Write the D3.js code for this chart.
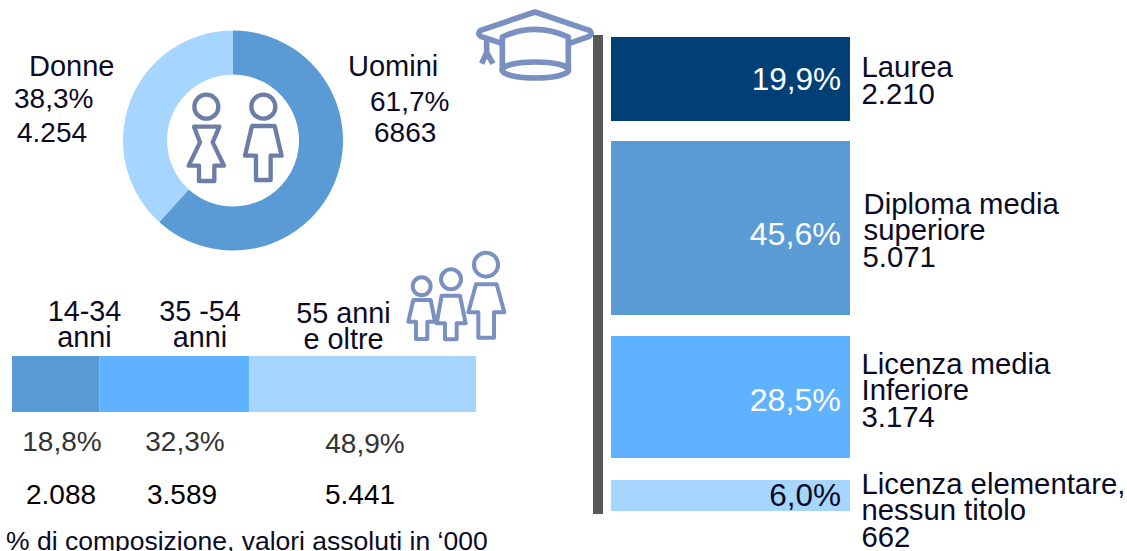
<!DOCTYPE html>
<html>
<head>
<meta charset="utf-8">
<script src="https://cdnjs.cloudflare.com/ajax/libs/d3/7.8.5/d3.min.js"></script>
<style>
  html, body { margin: 0; padding: 0; background: #fff; overflow: hidden; }
  svg { display: block; }
  text { font-family: "Liberation Sans", Arial, sans-serif; fill: #0b0b25; }
</style>
</head>
<body>
<div id="chart"></div>
<script>
// gender donut
var genderNames = ["Uomini", "Donne"];
var genderPct = [61.7, 38.3];
var genderPctLabels = ["61,7%", "38,3%"];
var genderAbsLabels = ["6863", "4.254"];

// age stacked bar
var ageNames = [["14-34", "anni"], ["35 -54", "anni"], ["55 anni", "e oltre"]];
var agePct = [18.8, 32.3, 48.9];
var agePctLabels = ["18,8%", "32,3%", "48,9%"];
var ageAbsLabels = ["2.088", "3.589", "5.441"];

// education bars
var eduNames = [["Laurea"], ["Diploma media", "superiore"], ["Licenza media", "Inferiore"], ["Licenza elementare,", "nessun titolo"]];
var eduPct = [19.9, 45.6, 28.5, 6.0];
var eduPctLabels = ["19,9%", "45,6%", "28,5%", "6,0%"];
var eduAbsLabels = ["2.210", "5.071", "3.174", "662"];

var footnote = "% di composizione, valori assoluti in ‘000";

var blue = "#5b9bd5", midBlue = "#5fb2ff", lightBlue = "#a6d5ff", navy = "#004077";
var iconDark = "#6c7ea6", iconLight = "#7a90c0";

var svg = d3.select("#chart").append("svg")
    .attr("width", 1127)
    .attr("height", 551);

function label(x, y, str, size, anchor, fill) {
    var t = svg.append("text")
        .attr("x", x)
        .attr("y", y)
        .attr("font-size", size)
        .attr("text-anchor", anchor || "start")
        .text(str);
    if (fill) t.style("fill", fill);
    return t;
}

// ---- donut ----
var pie = d3.pie().sort(null);
var arc = d3.arc().innerRadius(66).outerRadius(110);

svg.append("g")
    .attr("transform", "translate(233,140.5)")
    .selectAll("path")
    .data(pie(genderPct))
    .enter().append("path")
        .attr("d", arc)
        .attr("fill", function(d, i) { return [blue, lightBlue][i]; });

label(348, 76, genderNames[0], 29);
label(370, 111, genderPctLabels[0], 28);
label(374, 142, genderAbsLabels[0], 28);
label(29, 76, genderNames[1], 29);
label(14, 108, genderPctLabels[1], 28);
label(17, 142, genderAbsLabels[1], 28);

// ---- age bar ----
var ageX = d3.scaleLinear().domain([0, 100]).range([12, 476]);
var ageStart = d3.cumsum([0].concat(agePct));

svg.append("g").selectAll("rect")
    .data(agePct)
    .enter().append("rect")
        .attr("x", function(d, i) { return ageX(ageStart[i]); })
        .attr("y", 356)
        .attr("width", function(d) { return ageX(d) - ageX(0); })
        .attr("height", 56)
        .attr("fill", function(d, i) { return [blue, midBlue, lightBlue][i]; });

var ageNameX = [84.5, 200, 343.5], ageNameY = [321, 321, 323];
var agePctX = [62, 185, 365], agePctY = [451, 451, 453];
var ageAbsX = [61, 182, 360];
ageNames.forEach(function(lines, i) {
    label(ageNameX[i], ageNameY[i], lines[0], 28.8, "middle");
    label(ageNameX[i], ageNameY[i] + 26, lines[1], 28.8, "middle");
    label(agePctX[i], agePctY[i], agePctLabels[i], 28, "middle", "#333333");
    label(ageAbsX[i], 504, ageAbsLabels[i], 28, "middle", "#000000");
});

label(6, 550, footnote, 26.5);

// ---- education bars ----
// the source bars are not strictly proportional, so the scale goes through the drawn heights
var eduH = d3.scaleLinear().domain([6, 19.9, 28.5, 45.6]).range([31, 84, 122, 174]);
var eduGaps = [20, 21, 22, 0], eduTop = 37;
var eduY = [];
eduPct.reduce(function(y, d, i) { eduY[i] = y; return y + eduH(d) + eduGaps[i]; }, eduTop);

svg.append("rect")
    .attr("x", 593).attr("y", 35)
    .attr("width", 10).attr("height", 479)
    .attr("fill", "#595959");

svg.append("g").selectAll("rect")
    .data(eduPct)
    .enter().append("rect")
        .attr("x", 611)
        .attr("y", function(d, i) { return eduY[i]; })
        .attr("width", 239)
        .attr("height", function(d) { return eduH(d); })
        .attr("fill", function(d, i) { return [navy, blue, midBlue, lightBlue][i]; });

var eduPctY = [90, 245, 411, 506];
eduPctLabels.forEach(function(s, i) {
    label(841, eduPctY[i], s, i == 1 || i == 2 ? 32.2 : 31.5, "end", i == 3 ? "#0b0b25" : "#ffffff");
});

var eduNameX = [861.5, 863.5, 861.5, 861.5], eduNameY = [77, 214, 374, 494];
eduNames.forEach(function(lines, i) {
    lines.forEach(function(s, n) {
        label(eduNameX[i], eduNameY[i] + n * 26, s, 29.3);
    });
    label(eduNameX[i] - (i == 1 ? 1 : 0), eduNameY[i] + lines.length * 26.5, eduAbsLabels[i], 29.3);
});

// ---- icons (paths in 3x units, like the zoomed source) ----
function icon(x, y, color, width) {
    return svg.append("g")
        .attr("transform", "translate(" + x + "," + y + ") scale(0.3333)")
        .attr("fill", "none")
        .attr("stroke", color)
        .attr("stroke-width", width)
        .attr("stroke-linejoin", "round")
        .attr("stroke-linecap", "butt");
}

var couple = icon(180, 85, iconDark, 13);
couple.append("circle").attr("cx", 79).attr("cy", 65).attr("r", 36);
couple.append("path").attr("d", "M42,125H118L98,172L132,242H103V288H57V242H26L60,172Z");
couple.append("circle").attr("cx", 250).attr("cy", 65).attr("r", 36);
couple.append("path").attr("d", "M216,123H284L305,212H272V285H228V212H195Z");

var family = icon(400, 245, iconLight, 12);
family.append("circle").attr("cx", 65).attr("cy", 124).attr("r", 27);
family.append("path").attr("d", "M40,165H92L105,230H82V282H48V230H25Z");
family.append("circle").attr("cx", 153).attr("cy", 103).attr("r", 30);
family.append("path").attr("d", "M125,152H180L197,235H170V283H135V235H110Z");
family.append("circle").attr("cx", 258).attr("cy", 59).attr("r", 36);
family.append("path").attr("d", "M228,118H290L313,202H282V278H235V202H205Z");

var cap = icon(460, 1, iconLight, 17);
cap.append("path").attr("d", "M128,128L62,106Q50,97 62,88L225,33L388,88Q400,97 388,106L328,127");
cap.append("path").attr("d", "M127,208V108Q225,62 325,108V208");
cap.append("ellipse").attr("cx", 226).attr("cy", 207).attr("rx", 100).attr("ry", 24);
cap.append("path").attr("d", "M80,115V155M80,155L65,188M80,155L99,188");
</script>
</body>
</html>
